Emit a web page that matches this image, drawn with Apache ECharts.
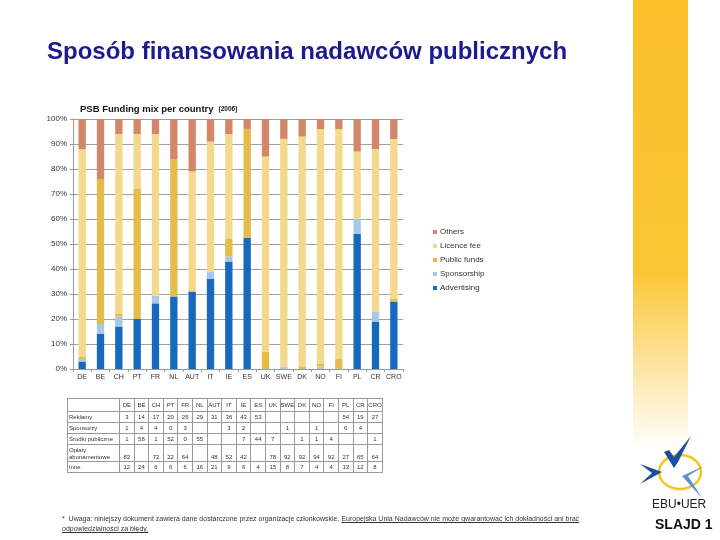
<!DOCTYPE html>
<html>
<head>
<meta charset="utf-8">
<script src="https://cdn.jsdelivr.net/npm/echarts@6/dist/echarts.min.js"></script>
<style>
  html, body { margin: 0; padding: 0; background: #fff; }
  #wrap { position: relative; width: 720px; height: 540px; overflow: hidden; }
  #chart { position: absolute; left: 0; top: 0; width: 720px; height: 540px; }
  #tbl { position: absolute; left: 67px; top: 398px; border-collapse: collapse;
         font-family: 'Liberation Sans', Arial, sans-serif; font-size: 6px; color: #333; }
  #tbl td { border: 1px solid #999; padding: 0; text-align: center; width: 13.6px; height: 10px; line-height: 7px; }
  #tbl td.lbl { text-align: left; width: 50px; padding-left: 1px; }
  #tbl tr.hd td { height: 12px; }
  #tbl tr.tall td { height: 16px; vertical-align: bottom; }
  #note { position: absolute; left: 62px; top: 514px; width: 580px;
          font-family: 'Liberation Sans', Arial, sans-serif; font-size: 7px; line-height: 10px; color: #333; }
  #note u { text-decoration: underline; }
</style>
</head>
<body>
<div id="wrap">
  <div id="chart"></div>
  <table id="tbl"></table>
  <div id="note">*&nbsp;&nbsp;Uwaga: niniejszy dokument zawiera dane dostarczone przez organizacje członkowskie. <u>Europejska Unia Nadawców nie może gwarantować ich dokładności ani brać</u><br><u>odpowiedzialności za błędy.</u></div>
</div>
<script>
var countries = ['DE', 'BE', 'CH', 'PT', 'FR', 'NL', 'AUT', 'IT', 'IE', 'ES', 'UK', 'SWE', 'DK', 'NO', 'FI', 'PL', 'CR', 'CRO'];
var advertising = [3, 14, 17, 20, 26, 29, 31, 36, 43, 53, null, null, null, null, null, 54, 19, 27];
var sponsorship = [1, 4, 4, 0, 3, null, null, 3, 2, null, null, 1, null, 1, null, 6, 4, null];
var publicFunds = [1, 58, 1, 52, 0, 55, null, null, 7, 44, 7, null, 1, 1, 4, null, null, 1];
var licenceFee = [83, null, 72, 22, 64, null, 48, 52, 42, null, 78, 92, 92, 94, 92, 27, 65, 64];
var others = [12, 24, 6, 6, 6, 16, 21, 9, 6, 4, 15, 8, 7, 4, 4, 13, 12, 8];

var seriesNames = ['Advertising', 'Sponsorship', 'Public funds', 'Licence fee', 'Others'];
var rowLabels = ['Reklamy', 'Sponsorzy', 'Środki publiczne', 'Opłaty<br>abonamentowe', 'Inne'];
var colors = ['#1769bb', '#a6c9ea', '#e5bb4a', '#f3d98b', '#d4866a'];

var rows = [advertising, sponsorship, publicFunds, licenceFee, others];

// 100% stacked: each country scaled to its own total
var totals = countries.map(function (c, i) {
    var s = 0;
    rows.forEach(function (r) { s += r[i] || 0; });
    return s;
});
function share(arr) {
    return arr.map(function (v, i) { return v == null ? null : v / totals[i] * 100; });
}

// table under the chart
var html = '<tr class="hd"><td class="lbl"></td>';
countries.forEach(function (c) { html += '<td>' + c + '</td>'; });
html += '</tr>';
rows.forEach(function (r, k) {
    html += '<tr' + (k == 3 ? ' class="tall"' : '') + '><td class="lbl">' + rowLabels[k] + '</td>';
    r.forEach(function (v) { html += '<td>' + (v == null ? '' : v) + '</td>'; });
    html += '</tr>';
});
document.getElementById('tbl').innerHTML = html;

var chart = echarts.init(document.getElementById('chart'));

var series = seriesNames.map(function (name, k) {
    return {
        name: name,
        type: 'bar',
        stack: 'mix',
        barWidth: '40%',
        itemStyle: { color: colors[k] },
        emphasis: { disabled: true },
        data: share(rows[k])
    };
});

chart.setOption({
    animation: false,
    textStyle: { fontFamily: 'Liberation Sans' },
    title: [{
        text: 'Sposób finansowania nadawców publicznych',
        left: 42, top: 35,
        textStyle: { color: '#1b1b8e', fontSize: 24, fontWeight: 'bold', fontFamily: 'Liberation Sans' }
    }, {
        text: '{a|PSB Funding mix per country} {b|(2006)}',
        left: 75, top: 95,
        textStyle: {
            rich: {
                a: { fontSize: 9.5, fontWeight: 'bold', color: '#111', fontFamily: 'Liberation Sans' },
                b: { fontSize: 6.5, fontWeight: 'bold', color: '#111', fontFamily: 'Liberation Sans' }
            }
        }
    }],
    legend: {
        orient: 'vertical',
        left: 428, top: 223,
        itemWidth: 4, itemHeight: 4, itemGap: 6,
        icon: 'rect',
        data: seriesNames.slice().reverse(),
        textStyle: { fontSize: 8, color: '#333', padding: [0, 0, 0, -2] }
    },
    grid: { left: 73, right: 317, top: 119, bottom: 171 },
    xAxis: {
        type: 'category',
        data: countries,
        axisLine: { lineStyle: { color: '#999' } },
        axisTick: { show: true, length: 3, lineStyle: { color: '#999' } },
        axisLabel: { fontSize: 7, color: '#333', margin: 5, interval: 0 }
    },
    yAxis: {
        type: 'value',
        min: 0, max: 100, interval: 10,
        axisLine: { show: true, lineStyle: { color: '#999' } },
        axisTick: { show: true, length: 3, lineStyle: { color: '#999' } },
        axisLabel: { fontSize: 8, color: '#333', margin: 6, formatter: '{value}%' },
        splitLine: { lineStyle: { color: '#a0a0a0' } }
    },
    graphic: [{
        type: 'rect', z: -1,
        shape: { x: 633, y: 0, width: 55, height: 450 },
        style: {
            fill: new echarts.graphic.LinearGradient(0, 0, 0, 1, [
                { offset: 0, color: '#fbc02a' },
                { offset: 0.6, color: '#fbc534' },
                { offset: 1, color: '#ffffff' }
            ])
        }
    }, {
        type: 'ellipse',
        shape: { cx: 680, cy: 472, rx: 21, ry: 17 },
        style: { fill: 'none', stroke: '#f5c61c', lineWidth: 2.5 }
    }, {
        type: 'polygon',
        shape: { points: [[664, 452], [669, 450], [674, 457], [691, 436], [678, 462], [674, 468]] },
        style: { fill: '#1a4f9e' }
    }, {
        type: 'polygon',
        shape: { points: [[640, 464], [662, 472], [640, 484], [652, 473]] },
        style: { fill: '#1a4f9e' }
    }, {
        type: 'polygon',
        shape: { points: [[704, 466], [682, 476], [702, 498], [688, 476]] },
        style: { fill: '#5b8fd3' }
    }, {
        type: 'text',
        left: 652, top: 499,
        style: { text: 'EBU•UER', fontSize: 12, fill: '#222', fontFamily: 'Liberation Sans' }
    }, {
        type: 'text',
        left: 655, top: 518,
        style: { text: 'SLAJD 1', fontSize: 14, fontWeight: 'bold', fill: '#111', fontFamily: 'Liberation Sans' }
    }],
    series: series
});
</script>
</body>
</html>
